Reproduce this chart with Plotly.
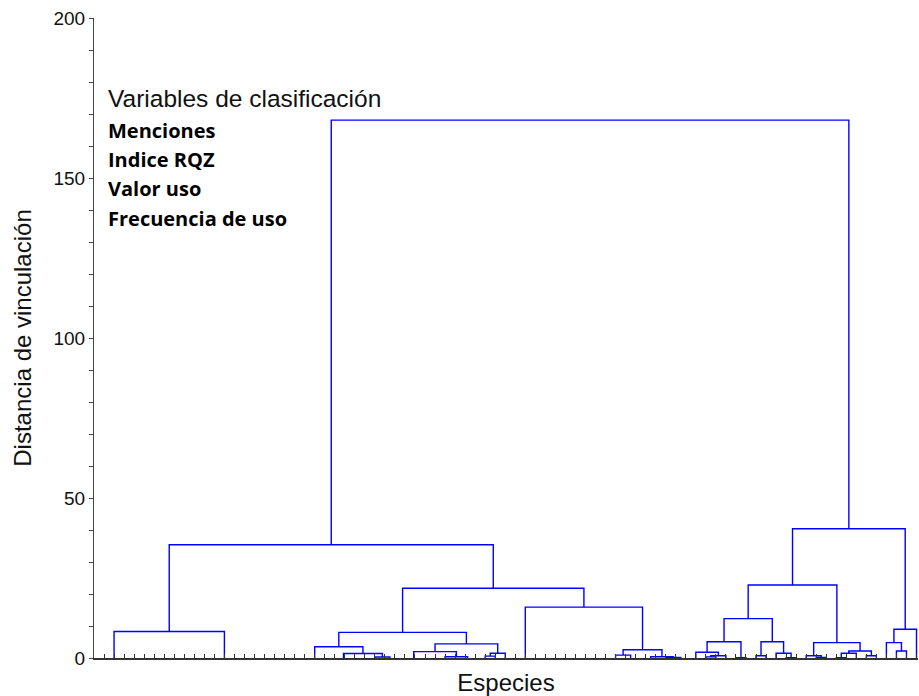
import plotly.graph_objects as go

# Species are the dendrogram leaves, ordered left to right.
n_species = 82

# Linkage steps (cluster name, left member, right member, linkage distance).
# Integer members are species leaves; strings refer to clusters built earlier.
left_group_a = [
    ("z1", 10, 11, 0.0), ("z2", 9, "z1", 0.0), ("z3", 8, "z2", 0.0),
    ("z4", 7, "z3", 0.0), ("z5", 6, "z4", 0.0), ("z6", 5, "z5", 0.0),
    ("z7", 4, "z6", 0.0), ("z8", 3, "z7", 0.0), ("z9", 2, "z8", 0.0),
    ("z10", 1, "z9", 0.0), ("z11", 0, "z10", 0.0),
    ("LA", "z11", 12, 8.3),
]

left_group_b1 = [
    ("y1", 13, 14, 0.0), ("y2", "y1", 15, 0.0), ("y3", "y2", 16, 0.0),
    ("y4", "y3", 17, 0.0), ("y5", "y4", 18, 0.0), ("y6", "y5", 19, 0.0),
    ("y7", "y6", 20, 0.0), ("y8", "y7", 21, 0.0), ("y9", "y8", 22, 0.0),
    ("x1", 25, 26, 0.0), ("x2", 24, "x1", 0.0), ("x3", 23, "x2", 0.0),
    ("m1", 28, 29, 0.0), ("m2", 27, "m1", 0.3),
    ("LB1a_r", "x3", "m2", 1.4),
    ("LB1a", "y9", "LB1a_r", 3.5),
    ("q1", 32, 33, 0.0), ("q2", 31, "q1", 0.0), ("q3", 30, "q2", 0.0),
    ("t1", 35, 36, 0.0), ("t2", "t1", 37, 0.0),
    ("S", 34, "t2", 0.4),
    ("LB1b_l", "q3", "S", 2.0),
    ("P", 38, 39, 0.6),
    ("LB1b_r", "P", 40, 1.5),
    ("LB1b", "LB1b_l", "LB1b_r", 4.4),
    ("LB1", "LB1a", "LB1b", 8.0),
]

left_group_b2 = [
    ("w1", 49, 50, 0.0), ("w2", 48, "w1", 0.0), ("w3", 47, "w2", 0.0),
    ("w4", 46, "w3", 0.0), ("w5", 45, "w4", 0.0), ("w6", 44, "w5", 0.0),
    ("w7", 43, "w6", 0.0), ("w8", 42, "w7", 0.0), ("w9", 41, "w8", 0.0),
    ("A0", 52, 53, 0.0), ("A", 51, "A0", 0.9),
    ("B0", 54, 55, 0.0), ("B1", 57, 58, 0.0), ("B2", 56, "B1", 0.15),
    ("B", "B0", "B2", 0.4),
    ("LB2r", "A", "B", 2.6),
    ("LB2", "w9", "LB2r", 15.9),
    ("LB", "LB1", "LB2", 21.8),
    ("L", "LA", "LB", 35.4),
]

right_group = [
    ("r1", 60, 61, 0.35), ("r2", "r1", 62, 0.7), ("r3", 59, "r2", 1.8),
    ("r4", 63, 64, 0.1), ("r5", "r3", "r4", 5.1),
    ("r6", 65, 66, 0.7), ("r7", 68, 69, 0.1), ("r8", 67, "r7", 1.5),
    ("r9", "r6", "r8", 5.1),
    ("R1a", "r5", "r9", 12.3),
    ("s1", 71, 72, 0.2), ("s2", 70, "s1", 0.7),
    ("s3", 73, 74, 0.1), ("s4", "s3", 75, 1.5),
    ("s5", 76, 77, 0.7), ("s6", "s4", "s5", 2.2),
    ("R1b", "s2", "s6", 4.8),
    ("R1", "R1a", "R1b", 22.8),
    ("u1", 79, 80, 2.2), ("u2", 78, "u1", 4.8),
    ("R2", "u2", 81, 9.0),
    ("R", "R1", "R2", 40.4),
]

root_merge = [("root", "L", "R", 168.1)]

y_tick_values = [0, 50, 100, 150, 200]

variables_title = "Variables de clasificación"
variables_used = ["Menciones", "Indice RQZ", "Valor uso", "Frecuencia de uso"]

# ---- build the dendrogram path ---------------------------------------------
merges = left_group_a + left_group_b1 + left_group_b2 + right_group + root_merge

pos = {i: float(i) for i in range(n_species)}
lvl = {i: 0.0 for i in range(n_species)}
xs, ys = [], []
for name, a, b, h in merges:
    pos[name] = (pos[a] + pos[b]) / 2.0
    lvl[name] = h
    if h > 0:
        xs += [pos[a], pos[a], pos[b], pos[b], None]
        ys += [lvl[a], h, h, lvl[b], None]

fig = go.Figure()
fig.add_trace(go.Scatter(
    x=xs, y=ys, mode="lines",
    line=dict(color="#0000ff", width=1.4),
    hoverinfo="skip", showlegend=False,
))

axis_font = dict(family="Liberation Sans, Arial, sans-serif", color="#111")

fig.update_layout(
    width=919, height=696,
    margin=dict(l=94, r=1, t=18, b=38),
    paper_bgcolor="white", plot_bgcolor="white",
    showlegend=False,
    xaxis=dict(
        range=[-1.0, n_species - 0.85],
        showline=True, linecolor="#333", linewidth=2,
        ticks="inside", ticklen=4, tickwidth=1.2, tickcolor="#333",
        tickvals=list(range(n_species)), showticklabels=False,
        showgrid=False, zeroline=False,
        title=dict(text="Especies", font=dict(size=24, **axis_font), standoff=16),
    ),
    yaxis=dict(
        range=[0, 200],
        showline=True, linecolor="#444", linewidth=1.2,
        ticks="outside", ticklen=4, tickwidth=1, tickcolor="#444",
        tickvals=y_tick_values,
        tickfont=dict(size=19, **axis_font),
        minor=dict(dtick=10, ticks="outside", ticklen=4, tickwidth=1, tickcolor="#444"),
        showgrid=False, zeroline=False,
        title=dict(text="Distancia de vinculación", font=dict(size=24, **axis_font), standoff=14),
    ),
)

fig.add_annotation(
    x=0.014, y=0.875, xref="paper", yref="paper",
    xanchor="left", yanchor="middle", showarrow=False,
    text=variables_title,
    font=dict(size=24.5, **axis_font),
)
label_y = [0.825, 0.779, 0.733, 0.686]
for txt, yy in zip(variables_used, label_y):
    fig.add_annotation(
        x=0.014, y=yy, xref="paper", yref="paper",
        xanchor="left", yanchor="middle", showarrow=False,
        text=f"<b>{txt}</b>",
        font=dict(size=20, family="Open Sans, sans-serif", color="#000"),
    )

fig.write_html("out.html")
